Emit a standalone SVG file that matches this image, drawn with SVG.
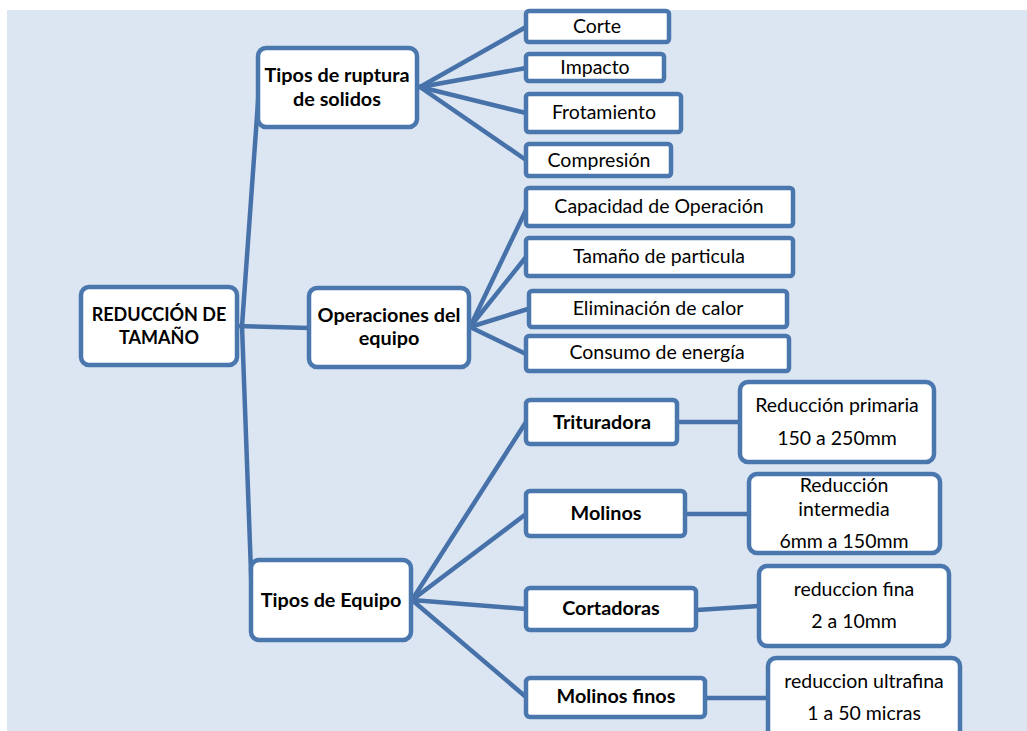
<svg xmlns="http://www.w3.org/2000/svg" width="1027" height="731" viewBox="0 0 1027 731">
<style>
.bg{fill:#dce6f2}
.box{fill:#ffffff;stroke:#4a77ae;stroke-width:4.5}
.sm{fill:#ffffff;stroke:#4a77ae;stroke-width:4.5}
.ln{fill:none;stroke:#4672a9;stroke-width:4.5;stroke-linecap:round;stroke-linejoin:round}
.b{font-family:Lato,"Liberation Sans",sans-serif;font-weight:bold;font-size:19.8px;fill:#000;text-anchor:middle}
.bm{font-family:Lato,"Liberation Sans",sans-serif;font-weight:bold;font-size:18px;fill:#000;text-anchor:middle}
.t{font-family:Lato,"Liberation Sans",sans-serif;font-size:19.5px;fill:#000;text-anchor:middle}
</style>
<rect class="bg" x="7" y="10" width="1020" height="721"/>
<g id="connectors">
<polyline class="ln" points="259,88 242,326 252,600"/>
<line class="ln" x1="236" y1="326" x2="310" y2="328"/>
<line class="ln" x1="420" y1="87" x2="526" y2="27"/>
<line class="ln" x1="420" y1="87" x2="526" y2="68"/>
<line class="ln" x1="420" y1="87" x2="526" y2="113"/>
<line class="ln" x1="420" y1="87" x2="526" y2="160"/>
<line class="ln" x1="470" y1="327" x2="526" y2="210"/>
<line class="ln" x1="470" y1="327" x2="526" y2="257"/>
<line class="ln" x1="470" y1="327" x2="528" y2="309"/>
<line class="ln" x1="470" y1="327" x2="526" y2="354"/>
<line class="ln" x1="412" y1="600" x2="526" y2="422"/>
<line class="ln" x1="412" y1="600" x2="526" y2="514"/>
<line class="ln" x1="412" y1="600" x2="526" y2="609"/>
<line class="ln" x1="412" y1="600" x2="526" y2="697"/>
<line class="ln" x1="678" y1="422" x2="740" y2="422"/>
<line class="ln" x1="686" y1="514" x2="749" y2="514"/>
<line class="ln" x1="697" y1="610" x2="759" y2="606"/>
<line class="ln" x1="706" y1="698" x2="768" y2="698"/>
</g>
<g id="n-main"><rect class="box" x="81" y="287" width="156" height="78" rx="8"/><text class="bm" x="159" y="321">REDUCCIÓN DE</text><text class="bm" x="159" y="344">TAMAÑO</text></g>
<g id="n-ruptura"><rect class="box" x="258" y="48" width="159" height="79" rx="8"/><text class="b" x="337" y="82">Tipos de ruptura</text><text class="b" x="337" y="106">de solidos</text></g>
<g id="n-operaciones"><rect class="box" x="309" y="288" width="160" height="79" rx="8"/><text class="b" x="389" y="322">Operaciones del</text><text class="b" x="389" y="345">equipo</text></g>
<g id="n-equipo"><rect class="box" x="251" y="560" width="160" height="80" rx="8"/><text class="b" x="331" y="607">Tipos de Equipo</text></g>
<g id="n-corte"><rect class="sm" x="526" y="11" width="143" height="31" rx="3"/><text class="t" x="597" y="33">Corte</text></g>
<g id="n-impacto"><rect class="sm" x="526" y="54" width="138" height="27" rx="3"/><text class="t" x="595" y="74">Impacto</text></g>
<g id="n-frotamiento"><rect class="sm" x="526" y="94" width="155" height="38" rx="3"/><text class="t" x="604" y="119">Frotamiento</text></g>
<g id="n-compresion"><rect class="sm" x="526" y="144" width="145" height="32" rx="3"/><text class="t" x="599" y="167">Compresión</text></g>
<g id="n-capacidad"><rect class="sm" x="526" y="188" width="267" height="38" rx="3"/><text class="t" x="659" y="213">Capacidad de Operación</text></g>
<g id="n-tamano"><rect class="sm" x="526" y="238" width="267" height="38" rx="3"/><text class="t" x="659" y="263">Tamaño de particula</text></g>
<g id="n-calor"><rect class="sm" x="529" y="291" width="258" height="36" rx="3"/><text class="t" x="658" y="315">Eliminación de calor</text></g>
<g id="n-energia"><rect class="sm" x="526" y="336" width="263" height="35" rx="3"/><text class="t" x="657" y="359">Consumo de energía</text></g>
<g id="n-trituradora"><rect class="sm" x="526" y="400" width="151" height="44" rx="4"/><text class="b" x="602" y="429">Trituradora</text></g>
<g id="n-primaria"><rect class="box" x="740" y="382" width="194" height="80" rx="8"/><text class="t" x="837" y="412">Reducción primaria</text><text class="t" x="837" y="445">150 a 250mm</text></g>
<g id="n-molinos"><rect class="sm" x="526" y="491" width="159" height="45" rx="4"/><text class="b" x="606" y="520">Molinos</text></g>
<g id="n-intermedia"><rect class="box" x="749" y="474" width="191" height="79" rx="8"/><text class="t" x="844" y="492">Reducción</text><text class="t" x="844" y="516">intermedia</text><text class="t" x="844" y="548">6mm a 150mm</text></g>
<g id="n-cortadoras"><rect class="sm" x="526" y="588" width="170" height="42" rx="4"/><text class="b" x="611" y="615">Cortadoras</text></g>
<g id="n-fina"><rect class="box" x="759" y="566" width="190" height="80" rx="8"/><text class="t" x="854" y="596">reduccion fina</text><text class="t" x="854" y="628">2 a 10mm</text></g>
<g id="n-molinosfinos"><rect class="sm" x="526" y="678" width="179" height="39" rx="4"/><text class="b" x="616" y="703">Molinos finos</text></g>
<g id="n-ultrafina"><rect class="box" x="768" y="658" width="192" height="90" rx="8"/><text class="t" x="864" y="688">reduccion ultrafina</text><text class="t" x="864" y="720">1 a 50 micras</text></g>
</svg>
